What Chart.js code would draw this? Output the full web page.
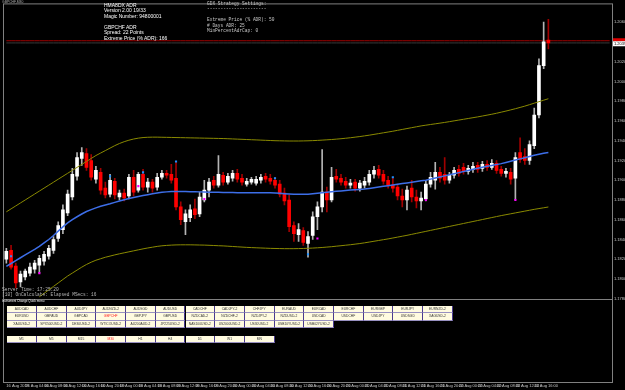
<!DOCTYPE html>
<html>
<head>
<meta charset="utf-8">
<script src="https://cdn.jsdelivr.net/npm/chart.js@4.4.1/dist/chart.umd.min.js"></script>
<style>
body { margin: 0; background: #000; }
#wrap { position: relative; width: 625px; height: 390px; overflow: hidden; background: #000; }
#chart { position: absolute; left: 0; top: 0; }
.t { position: absolute; white-space: pre; line-height: 1; }
.info { font-family: "Liberation Sans", Arial, sans-serif; font-size: 5px; color: #fff; }
.mono { font-family: "Liberation Mono", "DejaVu Sans Mono", monospace; font-size: 4.5px; color: #c8c8c8; }
.btn { position: absolute; box-sizing: border-box; width: 29.7px; height: 7.5px; background: #fffbe0;
  border-right: 1px solid #4a3a8f; border-bottom: 1px solid #9890c0;
  font: 3.3px "Liberation Sans", Arial, sans-serif; color: #333; text-align: center; line-height: 6.5px; }
.btn.on { color: #ff2020; }
</style>
</head>
<body>
<div id="wrap">
  <canvas id="chart" width="625" height="390"></canvas>
</div>
<script>
// GBPCHF M30 with ADR bands
const SYMBOL = 'GBPCHF,M30';

const TIME_LABELS = ['16 Aug 2019', '16 Aug 04:00', '16 Aug 08:00', '16 Aug 12:00', '16 Aug 16:00', '16 Aug 20:00',
  '19 Aug 00:00', '19 Aug 04:00', '19 Aug 08:00', '19 Aug 12:00', '19 Aug 16:00', '19 Aug 20:00',
  '20 Aug 00:00', '20 Aug 04:00', '20 Aug 08:00', '20 Aug 12:00', '20 Aug 16:00', '20 Aug 20:00',
  '21 Aug 00:00', '21 Aug 04:00', '21 Aug 08:00', '21 Aug 12:00', '21 Aug 16:00', '21 Aug 20:00',
  '22 Aug 00:00', '22 Aug 04:00', '22 Aug 08:00', '22 Aug 12:00', '22 Aug 16:00'];

const PRICE_TICKS = [1.1780, 1.1790, 1.1800, 1.1810, 1.1820, 1.1830, 1.1840, 1.1850, 1.1860, 1.1870,
  1.1880, 1.1890, 1.1900, 1.1910, 1.1920, 1.1930, 1.1940, 1.1950, 1.1960, 1.1970,
  1.1980, 1.1990, 1.2000, 1.2010, 1.2020, 1.2030, 1.2040, 1.2050, 1.2060, 1.2070];

const OPEN = [1.1820, 1.1829, 1.1813, 1.1797, 1.1802, 1.1806, 1.1810, 1.1814, 1.1818, 1.1823,
  1.1829, 1.1841, 1.1850, 1.1867, 1.1883, 1.1904, 1.1922, 1.1927, 1.1920, 1.1901,
  1.1908, 1.1892, 1.1886, 1.1899, 1.1883, 1.1887, 1.1884, 1.1903, 1.1890, 1.1906,
  1.1893, 1.1898, 1.1893, 1.1903, 1.1907, 1.1906, 1.1902, 1.1873, 1.1858, 1.1862,
  1.1871, 1.1866, 1.1880, 1.1890, 1.1900, 1.1895, 1.1905, 1.1898, 1.1902, 1.1907,
  1.1902, 1.1896, 1.1898, 1.1897, 1.1900, 1.1904, 1.1902, 1.1900, 1.1896, 1.1887,
  1.1880, 1.1854, 1.1845, 1.1849, 1.1836, 1.1844, 1.1863, 1.1873, 1.1888, 1.1880,
  1.1904, 1.1902, 1.1899, 1.1895, 1.1898, 1.1892, 1.1895, 1.1898, 1.1906, 1.1911,
  1.1906, 1.1900, 1.1895, 1.1893, 1.1884, 1.1880, 1.1892, 1.1883, 1.1879, 1.1881,
  1.1896, 1.1900, 1.1908, 1.1906, 1.1900, 1.1905, 1.1911, 1.1913, 1.1909, 1.1911,
  1.1915, 1.1912, 1.1916, 1.1913, 1.1917, 1.1911, 1.1907, 1.1908, 1.1902, 1.1928,
  1.1924, 1.1920, 1.1935, 1.1966, 1.2016, 1.2042];

const HIGH = [1.1831, 1.1834, 1.1816, 1.1808, 1.1810, 1.1816, 1.1819, 1.1824, 1.1828, 1.1834,
  1.1843, 1.1858, 1.1875, 1.1890, 1.1912, 1.1928, 1.1933, 1.1932, 1.1926, 1.1914,
  1.1912, 1.1898, 1.1906, 1.1902, 1.1890, 1.1891, 1.1906, 1.1910, 1.1908, 1.1911,
  1.1902, 1.1901, 1.1907, 1.1910, 1.1910, 1.1916, 1.1918, 1.1878, 1.1870, 1.1875,
  1.1881, 1.1888, 1.1900, 1.1902, 1.1904, 1.1925, 1.1908, 1.1907, 1.1910, 1.1911,
  1.1906, 1.1902, 1.1903, 1.1904, 1.1906, 1.1907, 1.1906, 1.1903, 1.1900, 1.1892,
  1.1885, 1.1858, 1.1856, 1.1852, 1.1848, 1.1868, 1.1878, 1.1931, 1.1893, 1.1913,
  1.1911, 1.1906, 1.1903, 1.1901, 1.1901, 1.1900, 1.1903, 1.1910, 1.1914, 1.1915,
  1.1910, 1.1904, 1.1902, 1.1896, 1.1891, 1.1894, 1.1900, 1.1890, 1.1888, 1.1900,
  1.1908, 1.1918, 1.1913, 1.1923, 1.1908, 1.1913, 1.1915, 1.1917, 1.1915, 1.1918,
  1.1918, 1.1919, 1.1920, 1.1921, 1.1920, 1.1914, 1.1912, 1.1912, 1.1928, 1.1943,
  1.1932, 1.1940, 1.1973, 1.2023, 1.2060, 1.2063];

const LOW = [1.1816, 1.1810, 1.1791, 1.1792, 1.1799, 1.1803, 1.1806, 1.1806, 1.1814, 1.1820,
  1.1826, 1.1838, 1.1846, 1.1864, 1.1880, 1.1900, 1.1915, 1.1910, 1.1900, 1.1897,
  1.1886, 1.1882, 1.1883, 1.1881, 1.1880, 1.1879, 1.1881, 1.1884, 1.1888, 1.1890,
  1.1888, 1.1888, 1.1890, 1.1901, 1.1902, 1.1897, 1.1870, 1.1855, 1.1845, 1.1858,
  1.1861, 1.1863, 1.1878, 1.1883, 1.1892, 1.1893, 1.1895, 1.1896, 1.1899, 1.1898,
  1.1895, 1.1894, 1.1896, 1.1895, 1.1897, 1.1898, 1.1896, 1.1892, 1.1883, 1.1875,
  1.1848, 1.1838, 1.1838, 1.1834, 1.1822, 1.1840, 1.1850, 1.1868, 1.1868, 1.1878,
  1.1898, 1.1895, 1.1892, 1.1892, 1.1889, 1.1889, 1.1892, 1.1895, 1.1902, 1.1902,
  1.1896, 1.1892, 1.1888, 1.1880, 1.1873, 1.1870, 1.1878, 1.1872, 1.1870, 1.1879,
  1.1893, 1.1891, 1.1898, 1.1896, 1.1897, 1.1902, 1.1904, 1.1906, 1.1906, 1.1908,
  1.1908, 1.1909, 1.1910, 1.1911, 1.1907, 1.1904, 1.1903, 1.1896, 1.1880, 1.1918,
  1.1916, 1.1916, 1.1932, 1.1963, 1.2013, 1.2033];

const CLOSE = [1.1828, 1.1812, 1.1796, 1.1805, 1.1808, 1.1812, 1.1816, 1.1821, 1.1825, 1.1831,
  1.1840, 1.1854, 1.1870, 1.1886, 1.1906, 1.1923, 1.1928, 1.1913, 1.1903, 1.1910,
  1.1890, 1.1885, 1.1900, 1.1885, 1.1887, 1.1882, 1.1903, 1.1888, 1.1906, 1.1893,
  1.1898, 1.1892, 1.1903, 1.1907, 1.1905, 1.1900, 1.1873, 1.1860, 1.1866, 1.1870,
  1.1865, 1.1883, 1.1890, 1.1898, 1.1895, 1.1906, 1.1898, 1.1904, 1.1907, 1.1901,
  1.1898, 1.1899, 1.1901, 1.1901, 1.1903, 1.1901, 1.1899, 1.1895, 1.1886, 1.1879,
  1.1853, 1.1846, 1.1850, 1.1837, 1.1843, 1.1863, 1.1873, 1.1888, 1.1880, 1.1903,
  1.1901, 1.1898, 1.1895, 1.1897, 1.1892, 1.1897, 1.1899, 1.1906, 1.1910, 1.1905,
  1.1899, 1.1895, 1.1892, 1.1884, 1.1880, 1.1890, 1.1883, 1.1879, 1.1882, 1.1896,
  1.1903, 1.1908, 1.1902, 1.1900, 1.1905, 1.1910, 1.1907, 1.1909, 1.1912, 1.1914,
  1.1911, 1.1916, 1.1913, 1.1917, 1.1910, 1.1907, 1.1909, 1.1901, 1.1923, 1.1921,
  1.1920, 1.1936, 1.1966, 1.2016, 1.2040, 1.2039];

const MA = [1.18128, 1.18157, 1.18186, 1.18215, 1.18244, 1.18273, 1.18300, 1.18330, 1.18365, 1.18400,
  1.18440, 1.18485, 1.18528, 1.18568, 1.18602, 1.18630, 1.18658, 1.18683, 1.18702, 1.18720,
  1.18736, 1.18750, 1.18762, 1.18776, 1.18790, 1.18803, 1.18814, 1.18825, 1.18835, 1.18845,
  1.18854, 1.18862, 1.18870, 1.18877, 1.18882, 1.18885, 1.18886, 1.18886, 1.18885, 1.18884,
  1.18883, 1.18882, 1.18880, 1.18879, 1.18878, 1.18877, 1.18876, 1.18875, 1.18875, 1.18874,
  1.18874, 1.18873, 1.18873, 1.18873, 1.18873, 1.18873, 1.18872, 1.18870, 1.18867, 1.18864,
  1.18861, 1.18859, 1.18857, 1.18857, 1.18859, 1.18863, 1.18868, 1.18873, 1.18878, 1.18883,
  1.18888, 1.18892, 1.18896, 1.18900, 1.18904, 1.18907, 1.18910, 1.18917, 1.18924, 1.18931,
  1.18938, 1.18945, 1.18952, 1.18959, 1.18966, 1.18973, 1.18980, 1.18987, 1.18994, 1.19000,
  1.19011, 1.19022, 1.19033, 1.19044, 1.19055, 1.19066, 1.19077, 1.19088, 1.19099, 1.19110,
  1.19121, 1.19132, 1.19142, 1.19150, 1.19158, 1.19168, 1.19180, 1.19192, 1.19204, 1.19216,
  1.19228, 1.19240, 1.19252, 1.19263, 1.19272, 1.19280];

const UPPER = [1.1868, 1.1871, 1.1874, 1.1877, 1.1880, 1.1883, 1.1886, 1.1889, 1.1892, 1.1895,
  1.1898, 1.1901, 1.1904, 1.1907, 1.1910, 1.1913, 1.1916, 1.1919, 1.1922, 1.1925,
  1.19275, 1.1930, 1.19325, 1.1935, 1.19372, 1.1939, 1.19405, 1.19417, 1.19426, 1.19432,
  1.19435, 1.19436, 1.19436, 1.19435, 1.19434, 1.19433, 1.19432, 1.19431, 1.19430, 1.19429,
  1.19428, 1.19427, 1.19426, 1.19425, 1.19424, 1.19423, 1.19422, 1.19420, 1.19418, 1.19416,
  1.19414, 1.19412, 1.19410, 1.19408, 1.19406, 1.19404, 1.19402, 1.19400, 1.19399, 1.19398,
  1.19397, 1.19397, 1.19397, 1.19398, 1.19399, 1.19401, 1.19403, 1.19406, 1.19409, 1.19412,
  1.19416, 1.19420, 1.19425, 1.19430, 1.19436, 1.19442, 1.19449, 1.19456, 1.19464, 1.19472,
  1.19480, 1.19488, 1.19496, 1.19505, 1.19514, 1.19523, 1.19532, 1.19541, 1.19550, 1.19557,
  1.19564, 1.19571, 1.19578, 1.19585, 1.19593, 1.19601, 1.19609, 1.19617, 1.19625, 1.19633,
  1.19641, 1.19650, 1.19659, 1.19668, 1.19678, 1.19689, 1.19700, 1.19712, 1.19724, 1.19737,
  1.19750, 1.19765, 1.19780, 1.19795, 1.19810, 1.19825];

const LOWER = [null, null, null, null, null, null, null, 1.1782, 1.17855, 1.1789,
  1.17925, 1.1796, 1.17995, 1.1803, 1.1806, 1.1809, 1.1812, 1.18147, 1.1817, 1.1819,
  1.18205, 1.1822, 1.18232, 1.18244, 1.18255, 1.18265, 1.18275, 1.18285, 1.18295, 1.18305,
  1.18314, 1.18322, 1.1833, 1.18336, 1.1834, 1.18343, 1.18345, 1.18346, 1.18346, 1.18346,
  1.18345, 1.18344, 1.18343, 1.18341, 1.18339, 1.18337, 1.18335, 1.18332, 1.18329, 1.18326,
  1.18323, 1.1832, 1.18318, 1.18316, 1.18314, 1.18312, 1.1831, 1.18309, 1.18308, 1.18307,
  1.18307, 1.18307, 1.18308, 1.18309, 1.18311, 1.18313, 1.18316, 1.18319, 1.18323, 1.18327,
  1.18332, 1.18337, 1.18342, 1.18347, 1.18353, 1.18359, 1.18366, 1.18374, 1.18382, 1.1839,
  1.18398, 1.18406, 1.18415, 1.18424, 1.18433, 1.18442, 1.18452, 1.18462, 1.18472, 1.18482,
  1.18492, 1.18502, 1.18512, 1.18522, 1.18532, 1.18542, 1.18552, 1.18562, 1.18572, 1.18582,
  1.18592, 1.18602, 1.18612, 1.18622, 1.18632, 1.18642, 1.18651, 1.1866, 1.18669, 1.18678,
  1.18687, 1.18696, 1.18705, 1.18713, 1.18721, 1.18729];

// signal marks: bar index and price
const BLUE_IDX = [1, 22, 29, 36, 57, 64, 82];
const BLUE_PRICE = [1.1823, 1.1904, 1.1908, 1.1919, 1.1902, 1.1825, 1.1903];
const PINK_IDX = [7, 28, 42, 66, 89, 108];
const PINK_PRICE = [1.1806, 1.1894, 1.1881, 1.1841, 1.1880, 1.1880];

const BID = 1.2039;
const ASK = 1.20412;
const EMPTY_SLOTS = 13;

const ROW1 = ['AUDCAD', 'AUDCHF', 'AUDJPY', 'AUDNZD-2', 'AUDSGD', 'AUDUSD', 'CADCHF', 'CADJPY-2', 'CHFJPY', 'EURAUD', 'EURCAD', 'EURCHF', 'EURGBP', 'EURJPY', 'EURNZD-2'];
const ROW2 = ['EURUSD', 'GBPAUD', 'GBPCAD', 'GBPCHF', 'GBPJPY', 'GBPUSD', 'NZDCAD-2', 'NZDCHF-2', 'NZDJPY-2', 'NZDUSD-2', 'USDCAD', 'USDCHF', 'USDJPY', 'USDSGD', 'XAGUSD-2'];
const ROW3 = ['XAUUSD-2', 'SPX500USD-2', 'DE30USD-2', 'WTICOUSD-2', 'AU200AUD-2', 'JP225USD-2', 'NAS100USD-2', 'US2000USD-2', 'US30USD-2', 'USB10YUSD-2', 'USB02YUSD-2'];
const TIMEFRAMES = ['M1', 'M5', 'M15', 'M30', 'H1', 'H4', 'D1', 'W1', 'MN'];

const INFO_LINES = ['HMA8DX ADR', 'Version 2.00 19/33', 'Magic Number: 94800001', '', 'GBPCHF ADR', 'Spread: 22 Points', 'Extreme Price (% ADR): 166'];
const GDX_LINES = ['GDX Strategy Settings:', '----------------------', '', 'Extreme Price (% ADR): 50', '# Days ADR: 25', 'MinPercentAdrCap: 0'];
const STATUS_LINES = ['Server Time: 17:25:20', '[10] OnCalculate: Elapsed MSecs: 16'];

// ---- text overlays ----
const wrap = document.getElementById('wrap');

function addText(cls, text, left, top, extra) {
    const d = document.createElement('div');
    d.className = 't ' + cls;
    d.textContent = text;
    d.style.left = left + 'px';
    d.style.top = top + 'px';
    if (extra) Object.assign(d.style, extra);
    wrap.appendChild(d);
}

addText('info', SYMBOL, 2, 1.2, { fontSize: '3.4px', color: '#b0b0b0' });
INFO_LINES.forEach((line, i) => addText('info', line, 104, 2.8 + i * 5.5));
GDX_LINES.forEach((line, i) => addText('mono', line, 207, 1.6 + i * 5.5));
STATUS_LINES.forEach((line, i) => addText('mono', line, 2, 287.6 + i * 5.3, { color: '#b8b8b8' }));
addText('info', 'Instrument Change Quick menu', 2, 300.4, { fontSize: '3px' });

function addButtons(names, top) {
    names.forEach((name, i) => {
        const b = document.createElement('div');
        b.className = 'btn' + (name === 'GBPCHF' || name === 'M30' ? ' on' : '');
        b.textContent = name;
        b.style.left = (7.3 + i * 29.7) + 'px';
        b.style.top = top + 'px';
        wrap.appendChild(b);
    });
}
addButtons(ROW1, 305.5);
addButtons(ROW2, 313);
addButtons(ROW3, 320.5);
addButtons(TIMEFRAMES, 335.8);

// ---- chart data ----
const n = CLOSE.length;
const slots = n + EMPTY_SLOTS;
const labels = [];
for (let i = 0; i < slots; i++) {
    labels.push(i % 4 === 0 && TIME_LABELS[i / 4] ? TIME_LABELS[i / 4] : '');
}

const up = CLOSE.map((c, i) => c >= OPEN[i]);
const bodies = OPEN.map((o, i) => [o, CLOSE[i]]);
const wicks = LOW.map((l, i) => [l, HIGH[i]]);

const blueData = new Array(slots).fill(null);
BLUE_IDX.forEach((k, j) => { blueData[k] = BLUE_PRICE[j]; });
const pinkData = new Array(slots).fill(null);
PINK_IDX.forEach((k, j) => { pinkData[k] = PINK_PRICE[j]; });

const askLine = labels.map(() => ASK);
const bidLine = labels.map(() => BID);

const frame = {
    id: 'frame',
    afterDraw(chart) {
        const { ctx, chartArea: a, scales } = chart;
        ctx.save();
        ctx.strokeStyle = '#808080';
        ctx.lineWidth = 1;
        ctx.strokeRect(a.left - 0.5, a.top - 0.5, a.right - a.left + 1, a.bottom - a.top + 1);
        const sep = Math.round(scales.y.bottom) + 0.5;
        ctx.beginPath();
        ctx.moveTo(a.left, sep);
        ctx.lineTo(a.right, sep);
        ctx.stroke();

        // price tags on the axis
        const ya = scales.y.getPixelForValue(ASK);
        ctx.fillStyle = '#e00000';
        ctx.fillRect(a.right + 1, ya - 2.5, 13, 3);
        ctx.fillStyle = '#ffffff';
        ctx.fillRect(a.right + 1, ya + 0.5, 13, 5);
        ctx.fillStyle = '#000';
        ctx.font = '4px "Liberation Sans"';
        ctx.textBaseline = 'middle';
        ctx.fillText(BID.toFixed(4), a.right + 2, ya + 3);
        ctx.restore();
    }
};

const tickFont = { family: 'Liberation Sans', size: 4 };

new Chart(document.getElementById('chart'), {
    data: {
        labels: labels,
        datasets: [
            { type: 'line', data: askLine, borderColor: '#a00000', borderWidth: 1, pointRadius: 0, order: 9 },
            { type: 'line', data: bidLine, borderColor: '#3a3a3a', borderWidth: 1, pointRadius: 0, order: 9 },
            { type: 'bar', data: wicks, backgroundColor: up.map(u => u ? '#b4b4b4' : '#a00000'),
              barThickness: 1, grouped: false, order: 6 },
            { type: 'bar', data: bodies, backgroundColor: up.map(u => u ? '#ffffff' : '#ff0000'),
              barThickness: 3, grouped: false, minBarLength: 1, order: 5 },
            { type: 'line', data: UPPER, borderColor: '#8a8a00', borderWidth: 1, pointRadius: 0, order: 3 },
            { type: 'line', data: LOWER, borderColor: '#8a8a00', borderWidth: 1, pointRadius: 0, order: 3 },
            { type: 'line', data: MA, borderColor: '#3d6ee8', borderWidth: 1.5, pointRadius: 0, order: 2 },
            { type: 'line', data: blueData, showLine: false, pointStyle: 'rect', pointRadius: 1.5,
              pointBackgroundColor: '#1e90ff', pointBorderWidth: 0, order: 1 },
            { type: 'line', data: pinkData, showLine: false, pointStyle: 'rect', pointRadius: 1.5,
              pointBackgroundColor: '#ff00ff', pointBorderWidth: 0, order: 1 }
        ]
    },
    options: {
        responsive: false,
        animation: false,
        devicePixelRatio: 1,
        layout: { padding: { top: 1, left: 1, right: 0, bottom: 0 } },
        plugins: { legend: { display: false }, tooltip: { enabled: false } },
        scales: {
            x: {
                type: 'category',
                offset: true,
                grid: { display: false, drawTicks: false },
                border: { display: false },
                ticks: { autoSkip: false, maxRotation: 0, minRotation: 0, align: 'start',
                         color: '#c8c8c8', font: tickFont, padding: 1.5 },
                afterFit: a => { a.height = 8; }
            },
            y: {
                position: 'right',
                stack: 'win',
                stackWeight: 297,
                min: 1.1780,
                max: 1.2078,
                afterBuildTicks: a => { a.ticks = PRICE_TICKS.map(v => ({ value: v })); },
                grid: { display: false, drawTicks: false },
                border: { display: false },
                ticks: { color: '#c8c8c8', font: tickFont, padding: 2, callback: v => v.toFixed(4) },
                afterFit: a => { a.width = 13; }
            },
            y2: {
                position: 'right',
                stack: 'win',
                stackWeight: 84,
                min: 0,
                max: 1,
                grid: { display: false, drawTicks: false },
                border: { display: false },
                ticks: { display: false },
                afterFit: a => { a.width = 13; }
            }
        }
    },
    plugins: [frame]
});
</script>
</body>
</html>
